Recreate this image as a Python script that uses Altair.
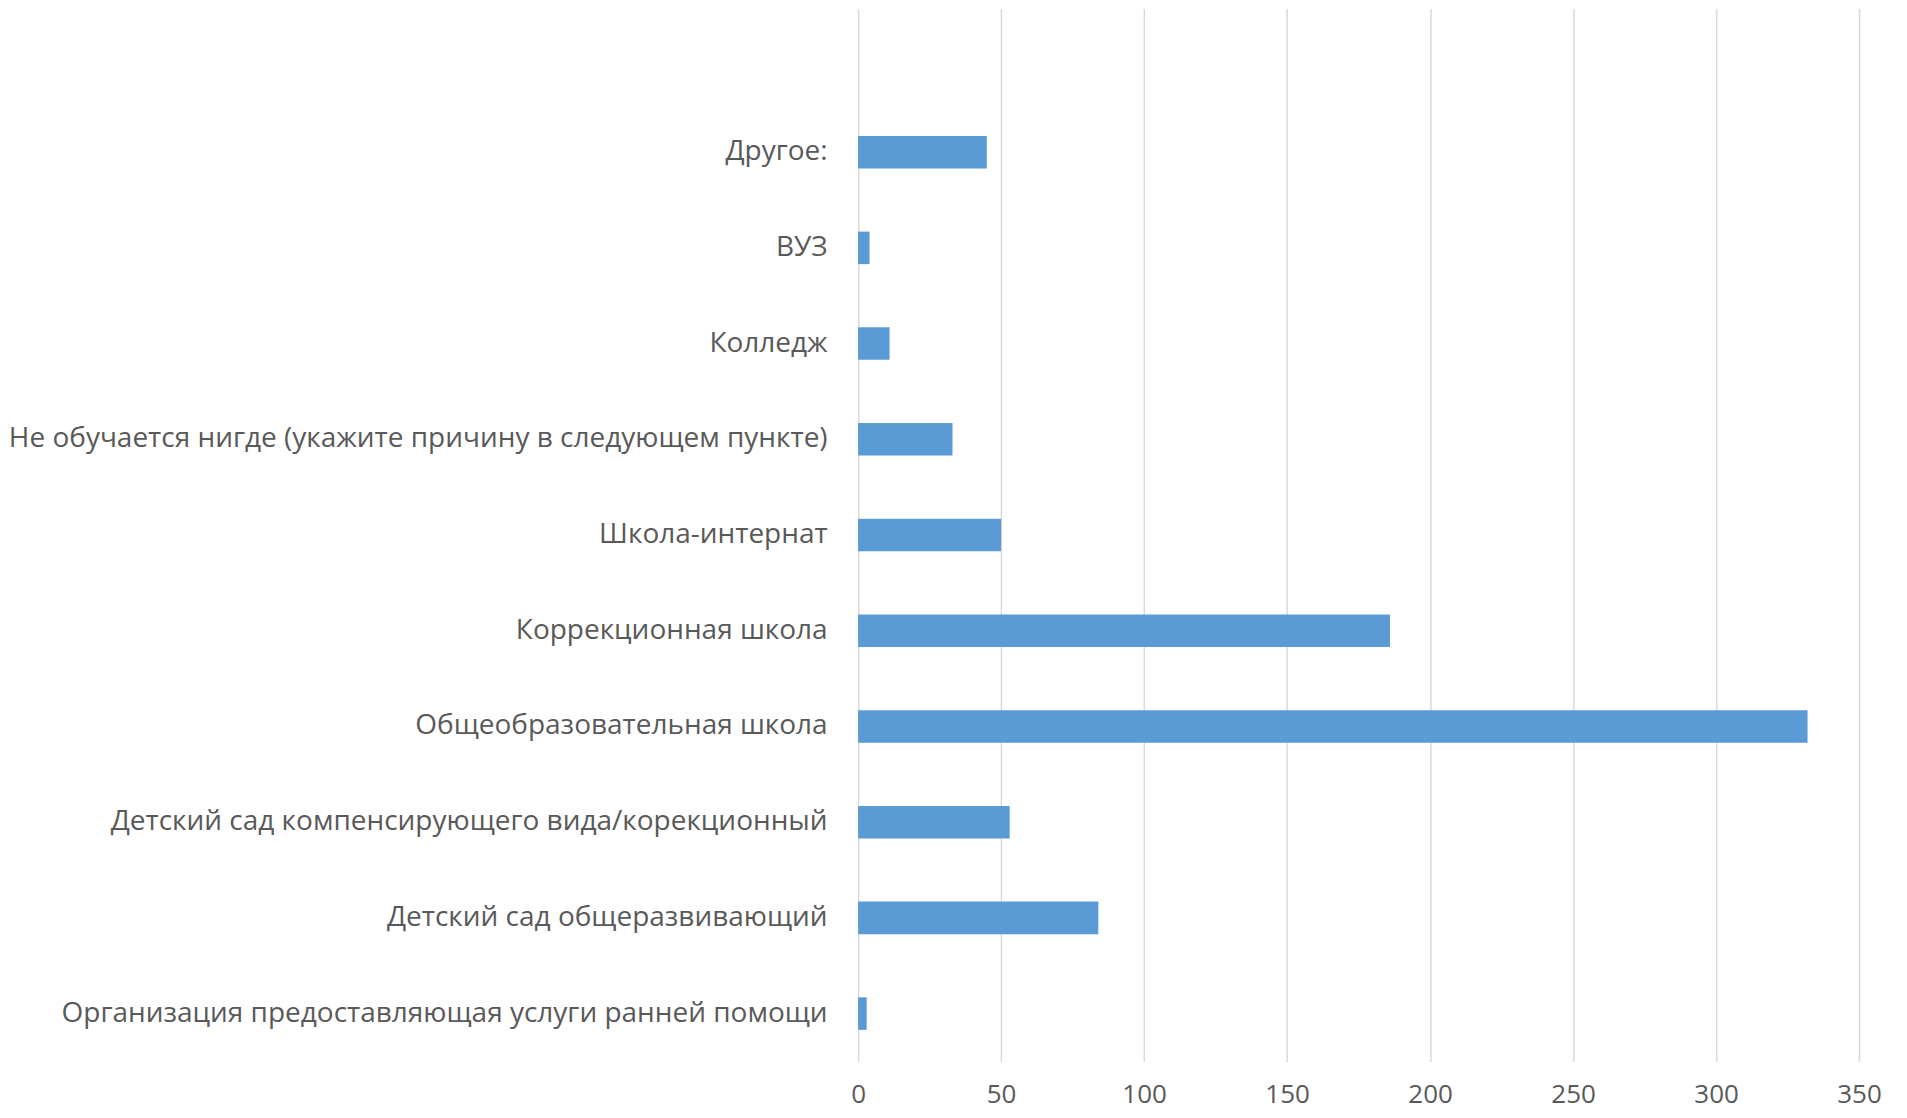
import altair as alt
import pandas as pd

categories = [
    "Организация предоставляющая услуги ранней помощи",
    "Детский сад общеразвивающий",
    "Детский сад компенсирующего вида/корекционный",
    "Общеобразовательная школа",
    "Коррекционная школа",
    "Школа-интернат",
    "Не обучается нигде (укажите причину в следующем пункте)",
    "Колледж",
    "ВУЗ",
    "Другое:",
]
values = [3, 84, 53, 332, 186, 50, 33, 11, 4, 45]
x_ticks = [0, 50, 100, 150, 200, 250, 300, 350]

df = pd.DataFrame({"category": categories, "value": values})
# top-to-bottom order, with an empty slot at the top as in the original
domain = [" "] + list(reversed(categories))

font = "Open Sans"
text_color = "#595959"

chart = (
    alt.Chart(df)
    .mark_bar(color="#5B9BD5")
    .encode(
        x=alt.X(
            "value:Q",
            scale=alt.Scale(domain=[0, 350], nice=False),
            axis=alt.Axis(
                values=x_ticks,
                title=None,
                grid=True,
                gridColor="#D9D9D9",
                gridWidth=1.5,
                domain=False,
                ticks=False,
                labelFlush=False,
                labelFont=font,
                labelFontSize=26,
                labelColor=text_color,
                labelPadding=20,
            ),
        ),
        y=alt.Y(
            "category:N",
            sort=domain,
            scale=alt.Scale(domain=domain, paddingInner=0.66, paddingOuter=0.33),
            axis=alt.Axis(
                title=None,
                domain=False,
                ticks=False,
                grid=False,
                labelFont=font,
                labelFontSize=28,
                labelColor=text_color,
                labelPadding=31,
                labelLimit=1000,
            ),
        ),
    )
    .properties(
        width=1002,
        height=1054,
        background="white",
        autosize=alt.AutoSizeParams(type="none"),
        padding={"left": 851, "top": 0, "right": 40, "bottom": 48},
    )
    .configure_view(strokeWidth=0, strokeOpacity=0)
)

chart.save("out.html", embed_options={"renderer": "svg", "actions": False})
